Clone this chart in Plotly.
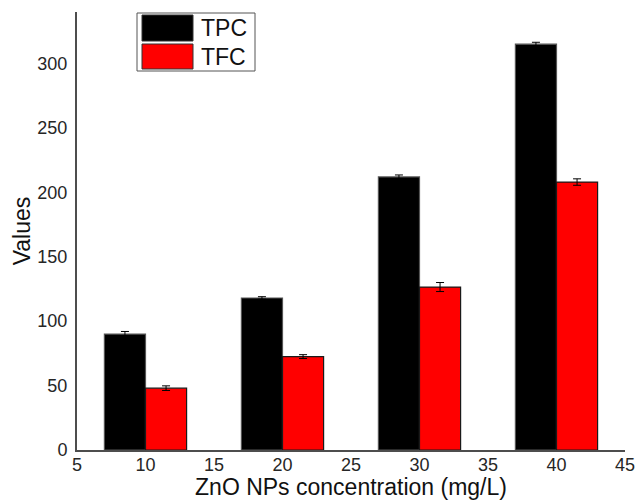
import plotly.graph_objects as go

# ZnO nanoparticle concentration (mg/L)
concentration = [10, 20, 30, 40]

# Total phenolic content and total flavonoid content
tpc_values = [90, 118, 212, 315]
tpc_errors = [2.0, 1.0, 1.5, 1.5]
tfc_values = [48, 72.5, 126.5, 208]
tfc_errors = [1.8, 1.5, 3.5, 2.5]

series_names = ["TPC", "TFC"]
series_colors = ["#000000", "#ff0000"]

FONT = "Liberation Sans, Arial, sans-serif"
W, H = 636, 500
L, R, T, B = 77, 11, 12, 50

fig = go.Figure()
for name, vals, errs, color, edge in [
    (series_names[0], tpc_values, tpc_errors, series_colors[0], "#555555"),
    (series_names[1], tfc_values, tfc_errors, series_colors[1], "#1a1a1a"),
]:
    fig.add_trace(go.Bar(
        x=concentration, y=vals, name=name,
        marker=dict(color=color, line=dict(color=edge, width=1.2)),
        error_y=dict(type="data", array=errs, visible=True,
                     color="#000000", thickness=1, width=4),
        showlegend=False,
    ))

# Legend box with large swatches
plot_w, plot_h = W - L - R, H - T - B
def px_x(px):
    return (px - L) / plot_w
def px_y(py):
    return (H - B - py) / plot_h

shapes = [dict(type="rect", xref="paper", yref="paper",
               x0=px_x(137), x1=px_x(255), y0=px_y(71), y1=px_y(13),
               line=dict(color="#555555", width=1), fillcolor="white")]
annotations = []
swatch_rows = [(15, 41), (44, 69)]
for (top, bot), name, color in zip(swatch_rows, series_names, series_colors):
    shapes.append(dict(type="rect", xref="paper", yref="paper",
                       x0=px_x(142), x1=px_x(193), y0=px_y(bot), y1=px_y(top),
                       line=dict(color="#333333", width=1), fillcolor=color))
    annotations.append(dict(xref="paper", yref="paper", x=px_x(199),
                            y=px_y((top + bot) / 2), text=name, showarrow=False,
                            xanchor="left", yanchor="middle",
                            font=dict(family=FONT, size=23, color="#111111")))

fig.update_layout(
    width=W, height=H,
    margin=dict(l=L, r=R, t=T, b=B, pad=0, autoexpand=False),
    paper_bgcolor="white", plot_bgcolor="white",
    barmode="group", bargap=0.4, bargroupgap=0,
    font=dict(family=FONT, size=18, color="#262626"),
    shapes=shapes, annotations=annotations,
    xaxis=dict(range=[5, 45], tickmode="linear", tick0=5, dtick=5,
               automargin=False,
               showgrid=False, zeroline=False, showline=True,
               linecolor="#4d4d4d", linewidth=2, ticks="",
               ticklabelstandoff=-3,
               tickfont=dict(size=18, color="#262626"),
               title=dict(text="ZnO NPs concentration (mg/L)",
                          font=dict(size=23, color="#111111"), standoff=0)),
    yaxis=dict(range=[0, 340], tickmode="linear", tick0=0, dtick=50,
               automargin=False,
               showgrid=False, zeroline=False, showline=True,
               linecolor="#4d4d4d", linewidth=2, ticks="",
               ticklabelstandoff=4,
               tickfont=dict(size=18, color="#262626"),
               title=dict(text="Values",
                          font=dict(size=23, color="#111111"), standoff=0)),
)

fig.write_html("out.html")
